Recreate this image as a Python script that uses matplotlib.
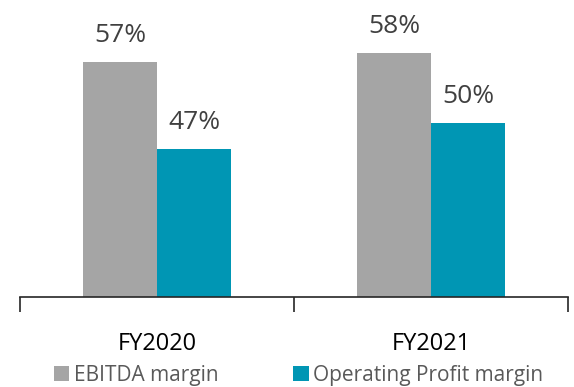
import matplotlib.pyplot as plt
import numpy as np

plt.rcParams['font.family'] = ['Open Sans', 'DejaVu Sans']

years = ['FY2020', 'FY2021']
ebitda = [57, 58]
op_profit = [47, 50]

gray = '#A5A5A5'
teal = '#0096B4'

fig = plt.figure(figsize=(5.74, 3.87), dpi=100)
ax = fig.add_axes([20/574, 90/387, 548/574, 297/387])

x = np.arange(len(years))
w = 0.27
b1 = ax.bar(x - w/2, ebitda, w, color=gray, label='EBITDA margin')
b2 = ax.bar(x + w/2, op_profit, w, color=teal, label='Operating Profit margin')
for bars in (b1, b2):
    for r in bars:
        ax.text(r.get_x() + r.get_width()/2, r.get_height() + 1.6, f'{r.get_height():.0f}%',
                ha='center', va='bottom', fontsize=19, color='#404040')

ax.set_xlim(-0.5, 1.5)
ax.set_ylim(30, 64.1)
for s in ('top', 'right', 'left'):
    ax.spines[s].set_visible(False)
ax.spines['bottom'].set_color('#262626')
ax.spines['bottom'].set_linewidth(1.2)
ax.set_yticks([])
ax.set_xticks([-0.5, 0.5, 1.5])
ax.set_xticklabels([])
ax.tick_params(axis='x', length=11, width=1.2, color='#262626')

# category names sit under the axis, centred on each group
for xi, lab in zip(x, years):
    ax.annotate(lab, (xi, 30), xytext=(0, -35), textcoords='offset pixels',
                ha='center', va='top', fontsize=17, color='#000000')

leg = fig.legend(handles=[b1, b2], loc='lower center', ncol=2, frameon=False,
                 bbox_to_anchor=(0.52, -0.045), fontsize=15, handlelength=0.75,
                 handleheight=0.75, handletextpad=0.2, columnspacing=3.6)
for t in leg.get_texts():
    t.set_color('#595959')

fig.savefig('out.png', dpi=100)
